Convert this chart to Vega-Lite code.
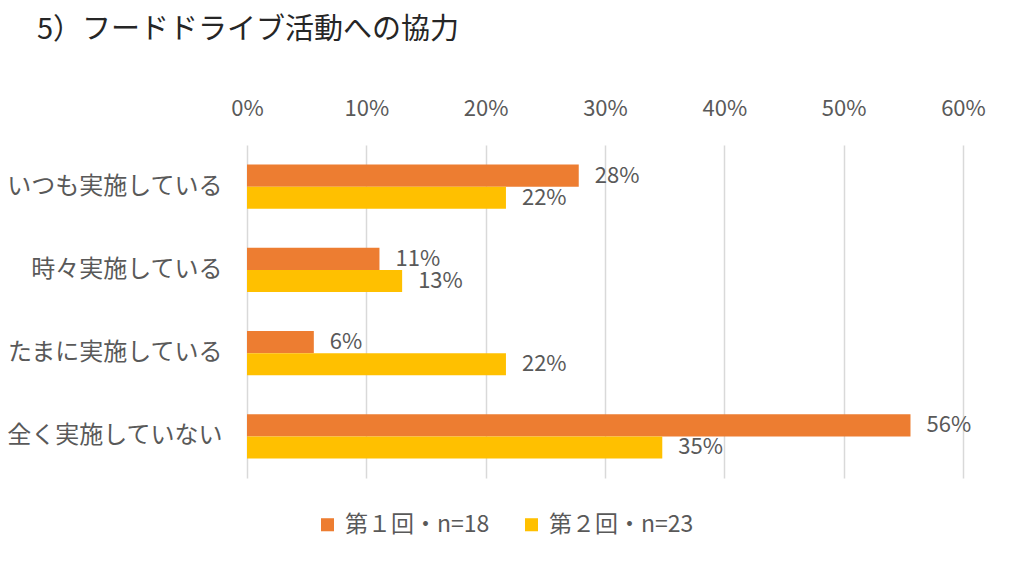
{
  "$schema": "https://vega.github.io/schema/vega-lite/v6.json",
  "autosize": {"type": "none"},
  "width": 716,
  "height": 333,
  "padding": {"left": 247, "top": 145, "right": 49, "bottom": 89},
  "background": "white",
  "title": {
    "text": "5）フードドライブ活動への協力",
    "anchor": "start",
    "frame": "group",
    "dx": -210,
    "offset": 52,
    "font": "Noto Sans CJK JP",
    "fontSize": 29,
    "fontWeight": "normal",
    "color": "#262626"
  },
  "config": {
    "font": "Noto Sans CJK JP",
    "view": {"stroke": null},
    "axis": {"labelFont": "Noto Sans CJK JP", "labelColor": "#595959", "labelFontSize": 22}
  },
  "data": {
    "values": [
      {"category": "いつも実施している", "series": "第１回・n=18", "value": 0.278},
      {"category": "いつも実施している", "series": "第２回・n=23", "value": 0.217},
      {"category": "時々実施している", "series": "第１回・n=18", "value": 0.111},
      {"category": "時々実施している", "series": "第２回・n=23", "value": 0.130},
      {"category": "たまに実施している", "series": "第１回・n=18", "value": 0.056},
      {"category": "たまに実施している", "series": "第２回・n=23", "value": 0.217},
      {"category": "全く実施していない", "series": "第１回・n=18", "value": 0.556},
      {"category": "全く実施していない", "series": "第２回・n=23", "value": 0.348}
    ]
  },
  "encoding": {
    "y": {
      "field": "category",
      "type": "nominal",
      "sort": ["いつも実施している", "時々実施している", "たまに実施している", "全く実施していない"],
      "scale": {"paddingInner": 0.47, "paddingOuter": 0.235},
      "axis": {"title": null, "ticks": false, "domain": false, "labelPadding": 25, "labelFontSize": 24, "labelLimit": 300}
    },
    "x": {
      "field": "value",
      "type": "quantitative",
      "scale": {"domain": [0, 0.6], "nice": false},
      "axis": {
        "orient": "top",
        "title": null,
        "format": ".0%",
        "values": [0, 0.1, 0.2, 0.3, 0.4, 0.5, 0.6],
        "ticks": false,
        "domain": false,
        "labelFlush": false,
        "labelPadding": 25,
        "grid": true,
        "gridColor": "#D9D9D9",
        "gridWidth": 1.5
      }
    },
    "yOffset": {"field": "series", "type": "nominal", "sort": ["第１回・n=18", "第２回・n=23"]}
  },
  "layer": [
    {
      "mark": {"type": "bar"},
      "encoding": {
        "color": {
          "field": "series",
          "type": "nominal",
          "sort": ["第１回・n=18", "第２回・n=23"],
          "scale": {"domain": ["第１回・n=18", "第２回・n=23"], "range": ["#ED7D31", "#FFC000"]},
          "legend": {
            "title": null,
            "orient": "none",
            "legendX": 69,
            "legendY": 368,
            "direction": "horizontal",
            "symbolType": "square",
            "symbolSize": 170,
            "symbolStrokeWidth": 0,
            "labelFontSize": 23,
            "labelColor": "#595959",
            "labelFont": "Noto Sans CJK JP",
            "columnPadding": 30,
            "labelOffset": 6
          }
        }
      }
    },
    {
      "mark": {"type": "text", "align": "left", "baseline": "middle", "dx": 16, "fontSize": 22, "color": "#595959"},
      "encoding": {
        "text": {"field": "value", "type": "quantitative", "format": ".0%"}
      }
    }
  ]
}
